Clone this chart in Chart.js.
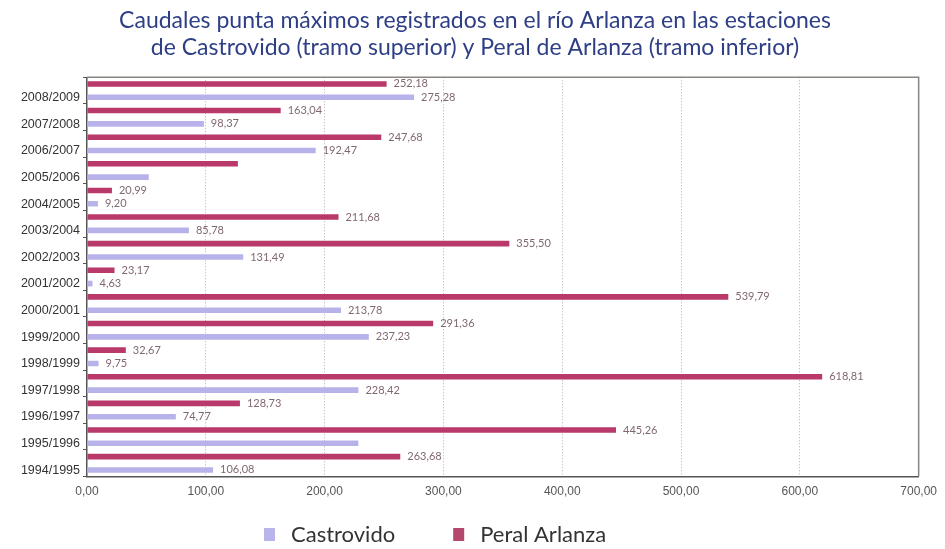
<!DOCTYPE html>
<html>
<head>
<meta charset="utf-8">
<script src="https://cdn.jsdelivr.net/npm/chart.js@4"></script>
<style>
  html, body { margin: 0; padding: 0; background: #fff; }
  #wrap { width: 945px; height: 549px; }
</style>
</head>
<body>
<div id="wrap"><canvas id="grafico" width="945" height="549"></canvas></div>
<script>
// Temporadas, de arriba abajo
const temporadas = ["2008/2009", "2007/2008", "2006/2007", "2005/2006", "2004/2005", "2003/2004",
    "2002/2003", "2001/2002", "2000/2001", "1999/2000", "1998/1999", "1997/1998",
    "1996/1997", "1995/1996", "1994/1995"];

// Caudales punta (m3/s)
const castrovido = [275.28, 98.37, 192.47, 52, 9.20, 85.78, 131.49, 4.63, 213.78, 237.23, 9.75, 228.42, 74.77, 228.4, 106.08];
const peralArlanza = [252.18, 163.04, 247.68, 127, 20.99, 211.68, 355.50, 23.17, 539.79, 291.36, 32.67, 618.81, 128.73, 445.26, 263.68];

// Barras sin etiqueta en el original
const castrovidoSinEtiqueta = ["2005/2006", "1995/1996"];
const peralSinEtiqueta = ["2005/2006"];

const ejeX = [0, 100, 200, 300, 400, 500, 600, 700];

const fmt = v => v.toFixed(2).replace(".", ",");

// Etiquetas de valor junto a cada barra
const etiquetasPlugin = {
    id: "etiquetas",
    afterDatasetsDraw(chart) {
        const ctx = chart.ctx;
        ctx.save();
        ctx.font = "11px Lato";
        ctx.fillStyle = "#806870";
        ctx.textAlign = "left";
        ctx.textBaseline = "middle";
        chart.data.datasets.forEach((ds, di) => {
            const meta = chart.getDatasetMeta(di);
            meta.data.forEach((bar, i) => {
                if (ds.sinEtiqueta.includes(temporadas[i])) return;
                ctx.fillText(fmt(ds.data[i]), bar.x + 7, bar.y);
            });
        });
        ctx.restore();
    }
};

// Marco del área de trazado
const marcoPlugin = {
    id: "marco",
    afterDraw(chart) {
        const { left, top, right, bottom } = chart.chartArea;
        const ctx = chart.ctx;
        ctx.save();
        ctx.strokeStyle = "#8a8580";
        ctx.lineWidth = 1.5;
        ctx.beginPath();
        ctx.moveTo(left, top);
        ctx.lineTo(right, top);
        ctx.lineTo(right, bottom);
        ctx.stroke();
        ctx.restore();
    }
};

// Leyenda inferior (Castrovido primero)
const leyendaPlugin = {
    id: "leyenda",
    afterDraw(chart) {
        const ctx = chart.ctx;
        const items = chart.data.datasets.slice().reverse();
        let x = 264;
        const y = 535;
        ctx.save();
        ctx.font = "22px Lato";
        ctx.textBaseline = "middle";
        ctx.textAlign = "left";
        items.forEach(ds => {
            ctx.fillStyle = ds.legendColor;
            ctx.fillRect(x, y - 7, 11, 13);
            ctx.fillStyle = "#333";
            ctx.fillText(ds.label, x + 27, y);
            x += 27 + ctx.measureText(ds.label).width + 58;
        });
        ctx.restore();
    }
};

const ctx = document.getElementById("grafico").getContext("2d");
new Chart(ctx, {
    type: "bar",
    data: {
        labels: temporadas,
        datasets: [
            {
                label: "Peral Arlanza",
                data: peralArlanza,
                backgroundColor: "#b8396a",
                legendColor: "#b5466e",
                sinEtiqueta: peralSinEtiqueta,
                borderWidth: 0
            },
            {
                label: "Castrovido",
                data: castrovido,
                backgroundColor: "#b7b3ea",
                legendColor: "#b9b5ea",
                sinEtiqueta: castrovidoSinEtiqueta,
                borderWidth: 0
            }
        ]
    },
    options: {
        indexAxis: "y",
        responsive: false,
        animation: false,
        datasets: { bar: { categoryPercentage: 1.0, barPercentage: 0.42 } },
        layout: { padding: { left: 5, right: 0, top: 4, bottom: 42 } },
        scales: {
            x: {
                min: 0,
                max: 700,
                afterBuildTicks: axis => { axis.ticks = ejeX.map(v => ({ value: v })); },
                ticks: {
                    callback: v => fmt(v),
                    color: "#555",
                    font: { family: "Liberation Sans", size: 12 },
                    padding: 8
                },
                grid: {
                    color: ctx => (ctx.tick && ctx.tick.value > 0 && ctx.tick.value < 700) ? "#b0b0b0" : "rgba(0,0,0,0)",
                    drawTicks: false
                },
                border: { color: "#555", width: 1.5, dash: [1, 2] }
            },
            y: {
                afterFit: axis => { axis.width = 82; },
                ticks: {
                    color: "#333",
                    font: { family: "Liberation Sans", size: 12.5 },
                    labelOffset: 7,
                    padding: 3
                },
                grid: { drawOnChartArea: false, tickLength: 4, color: "#555" },
                border: { color: "#555", width: 1.5 }
            }
        },
        plugins: {
            title: {
                display: true,
                text: ["Caudales punta máximos registrados en el río Arlanza en las estaciones",
                       "de Castrovido (tramo superior) y Peral de Arlanza (tramo inferior)"],
                color: "#2f3f86",
                font: { family: "Lato", size: 23, weight: "normal", lineHeight: 1.18 },
                padding: { top: 3, bottom: 16 }
            },
            legend: { display: false },
            tooltip: { enabled: false }
        }
    },
    plugins: [etiquetasPlugin, marcoPlugin, leyendaPlugin]
});
</script>
</body>
</html>
